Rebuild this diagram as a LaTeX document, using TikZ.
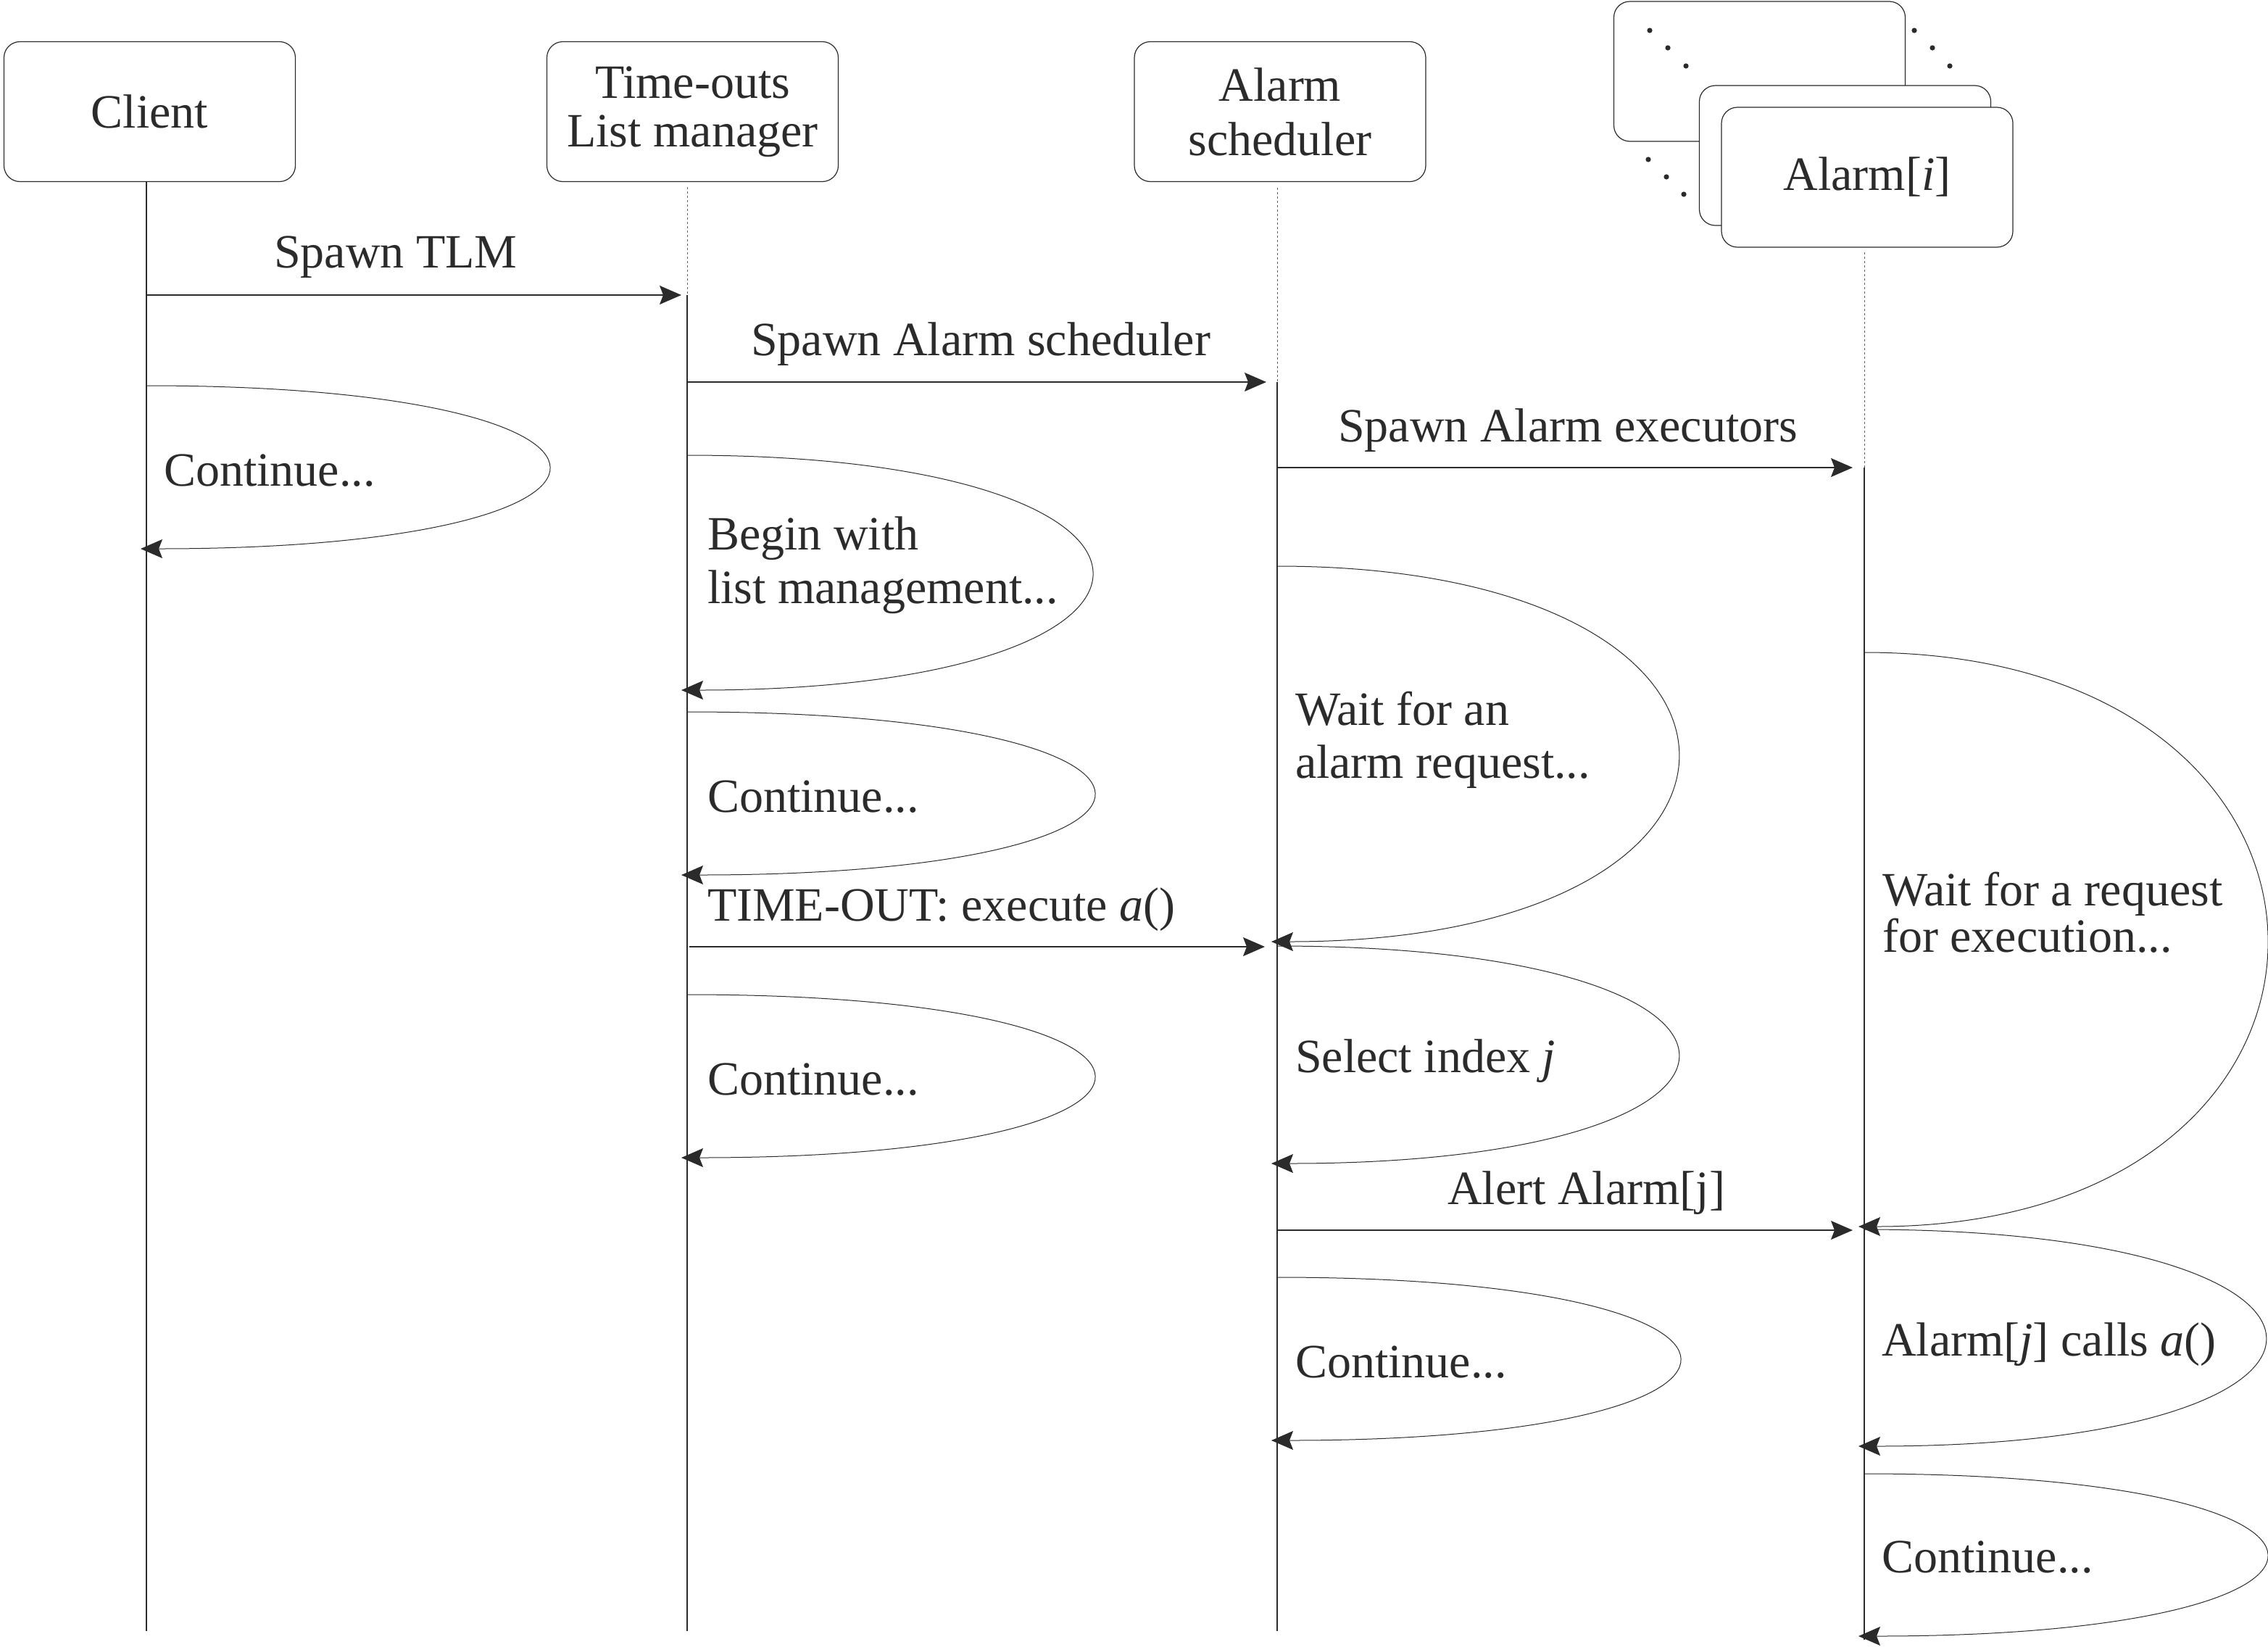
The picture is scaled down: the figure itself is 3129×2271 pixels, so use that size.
\documentclass[tikz,border=0pt]{standalone}
\usepackage{fontspec}
\setmainfont{Liberation Serif}
\usetikzlibrary{arrows.meta}
\definecolor{ink}{HTML}{2B2B2B}
\begin{document}
\begin{tikzpicture}[x=1pt,y=-1pt,
  every node/.style={text=ink, font=\fontsize{66}{74}\selectfont, inner sep=0pt, outer sep=0pt},
  objbox/.style={draw=ink, line width=1.2pt, rounded corners=22pt, minimum width=402pt, minimum height=193pt, align=center, fill=white},
  life/.style={draw=ink, line width=1.2pt},
  lifedot/.style={draw=ink!75, line width=1pt, dash pattern=on 3pt off 3pt},
  tip/.style={-{Stealth[length=30pt,width=26pt,inset=5pt]}},
  msg/.style={draw=ink, line width=1.2pt, tip},
  selfmsg/.style={draw=ink, line width=1pt, tip},
  lbl/.style={anchor=base west},
  dotmark/.style={fill=ink, draw=none},
]
\useasboundingbox (0,0) rectangle (3129,2271);

% ---------- object boxes ----------
\node[objbox] (client) at (206.5,154) {Client};
\node[objbox, font=\fontsize{66}{67}\selectfont] (tlm) at (955.5,154) {Time-outs\\List manager};
\node[objbox, font=\fontsize{66}{75}\selectfont] (sched) at (1766,154) {Alarm\\scheduler};

% stacked alarm boxes
\node[objbox] (alarmback) at (2427.5,98.5) {};
\foreach \px/\py in {2276/42,2301/66,2326/91,2641/42,2666/66,2690/91,2274/220,2299/244,2323/268}
  \fill[dotmark] (\px,\py) circle (3.6pt);
\node[objbox] (alarmmid) at (2545.5,214.5) {};
\node[objbox] (alarm) at (2576,244.5) {Alarm[\textit{i}]};

% ---------- lifeline coordinates ----------
\coordinate (cl-top) at (202,250);
\coordinate (cl-bot) at (202,2250);
\coordinate (tl-top) at (948,258);
\coordinate (tl-act) at (948,407);
\coordinate (tl-bot) at (948,2250);
\coordinate (sc-top) at (1762,259);
\coordinate (sc-act) at (1762,527);
\coordinate (sc-bot) at (1762,2250);
\coordinate (al-top) at (2572,348);
\coordinate (al-act) at (2572,645);
\coordinate (al-bot) at (2572,2262);

\draw[life] (cl-top) -- (cl-bot);
\draw[lifedot] (tl-top) -- (tl-act);
\draw[life] (tl-act) -- (tl-bot);
\draw[lifedot] (sc-top) -- (sc-act);
\draw[life] (sc-act) -- (sc-bot);
\draw[lifedot] (al-top) -- (al-act);
\draw[life] (al-act) -- (al-bot);

% ---------- messages ----------
\coordinate (m1s) at (202,407);   \coordinate (m1e) at (940,407);
\coordinate (m2s) at (948,527);   \coordinate (m2e) at (1747,527);
\coordinate (m3s) at (1762,645);  \coordinate (m3e) at (2556,645);
\coordinate (m4s) at (951,1306);  \coordinate (m4e) at (1745,1306);
\coordinate (m5s) at (1762,1697); \coordinate (m5e) at (2556,1697);

\draw[msg] (m1s) -- (m1e);
\draw[msg] (m2s) -- (m2e);
\draw[msg] (m3s) -- (m3e);
\draw[msg] (m4s) -- (m4e);
\draw[msg] (m5s) -- (m5e);

\node[lbl] (l1) at (378,369) {Spawn TLM};
\node[lbl] (l2) at (1036,490) {Spawn Alarm scheduler};
\node[lbl] (l3) at (1846,609) {Spawn Alarm executors};
\node[lbl] (l4) at (976,1270) {TIME-OUT: execute \textit{a}()};
\node[lbl] (l5) at (1997,1661) {Alert Alarm[j]};

% ---------- self loops ----------
% client
\coordinate (sa1) at (202,532);  \coordinate (sa2) at (194,757);
\draw[selfmsg] (sa1) .. controls +(740,0) and +(748,0) .. (sa2);
\node[lbl] (ta) at (226,670) {Continue...};

% time-outs list manager
\coordinate (sb1) at (948,628);  \coordinate (sb2) at (940,952);
\draw[selfmsg] (sb1) .. controls +(744,0) and +(752,0) .. (sb2);
\node[lbl] (tb1) at (976,758) {Begin with};
\node[lbl] (tb2) at (976,832) {list management...};

\coordinate (sc1) at (948,982);  \coordinate (sc2) at (940,1207);
\draw[selfmsg] (sc1) .. controls +(748,0) and +(756,0) .. (sc2);
\node[lbl] (tc) at (976,1120) {Continue...};

\coordinate (sg1) at (948,1372); \coordinate (sg2) at (940,1597);
\draw[selfmsg] (sg1) .. controls +(748,0) and +(756,0) .. (sg2);
\node[lbl] (tg) at (976,1510) {Continue...};

% alarm scheduler
\coordinate (sd1) at (1762,781);  \coordinate (sd2) at (1754,1299);
\draw[selfmsg] (sd1) .. controls +(737,0) and +(745,0) .. (sd2);
\node[lbl] (td1) at (1787,1000) {Wait for an};
\node[lbl] (td2) at (1787,1073) {alarm request...};

\coordinate (se1) at (1762,1305); \coordinate (se2) at (1754,1605);
\draw[selfmsg] (se1) .. controls +(737,0) and +(745,0) .. (se2);
\node[lbl] (te) at (1787,1479) {Select index \textit{j}};

\coordinate (sf1) at (1762,1762); \coordinate (sf2) at (1754,1987);
\draw[selfmsg] (sf1) .. controls +(740,0) and +(748,0) .. (sf2);
\node[lbl] (tf) at (1787,1900) {Continue...};

% alarm[i]
\coordinate (sh1) at (2572,900);  \coordinate (sh2) at (2564,1692);
\draw[selfmsg] (sh1) .. controls +(740,0) and +(748,0) .. (sh2);
\node[lbl] (th1) at (2597,1249) {Wait for a request};
\node[lbl] (th2) at (2597,1313) {for execution...};

\coordinate (si1) at (2572,1696); \coordinate (si2) at (2564,1995);
\draw[selfmsg] (si1) .. controls +(737,0) and +(745,0) .. (si2);
\node[lbl] (ti) at (2596,1870) {Alarm[\textit{j}] calls \textit{a}()};

\coordinate (sj1) at (2572,2033); \coordinate (sj2) at (2564,2257);
\draw[selfmsg] (sj1) .. controls +(740,0) and +(748,0) .. (sj2);
\node[lbl] (tj) at (2596,2169) {Continue...};
\end{tikzpicture}
\end{document}
